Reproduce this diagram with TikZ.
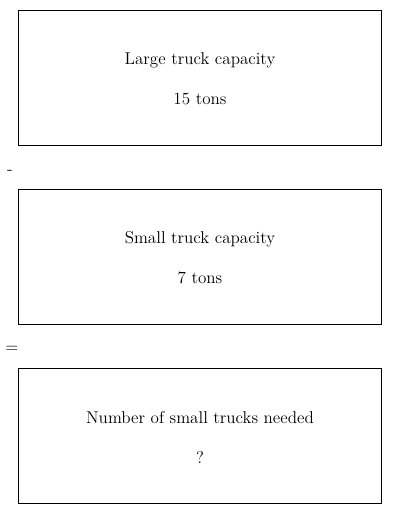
\documentclass[tikz,border=0pt]{standalone}
\begin{document}
\begin{tikzpicture}[x=0.75pt,y=-0.75pt,
  box/.style={draw=black,line width=0.75pt,minimum width=363*0.75pt,minimum height=135*0.75pt,anchor=north west,inner sep=0pt,outer sep=0pt},
  lbl/.style={font=\fontsize{12.8}{15}\selectfont,anchor=center},
  op/.style={font=\fontsize{12.8}{15}\selectfont,anchor=center,inner sep=0pt}]
\useasboundingbox (0,0) rectangle (400,514);
\node[box] (b1) at (18,10) {};
\node[box] (b2) at (18,189) {};
\node[box] (b3) at (18,368) {};
\node[lbl] (t1a) at (200,60) {Large truck capacity};
\node[lbl] (t1b) at (200,99) {15 tons};
\node[lbl] (t2a) at (200,239) {Small truck capacity};
\node[lbl] (t2b) at (200,278) {7 tons};
\node[lbl] (t3a) at (200,418) {Number of small trucks needed};
\node[lbl] (t3b) at (200,457) {?};
\node[op] (minus) at (10,172) {-};
\node[op] (eq) at (12,349) {=};
\end{tikzpicture}
\end{document}
